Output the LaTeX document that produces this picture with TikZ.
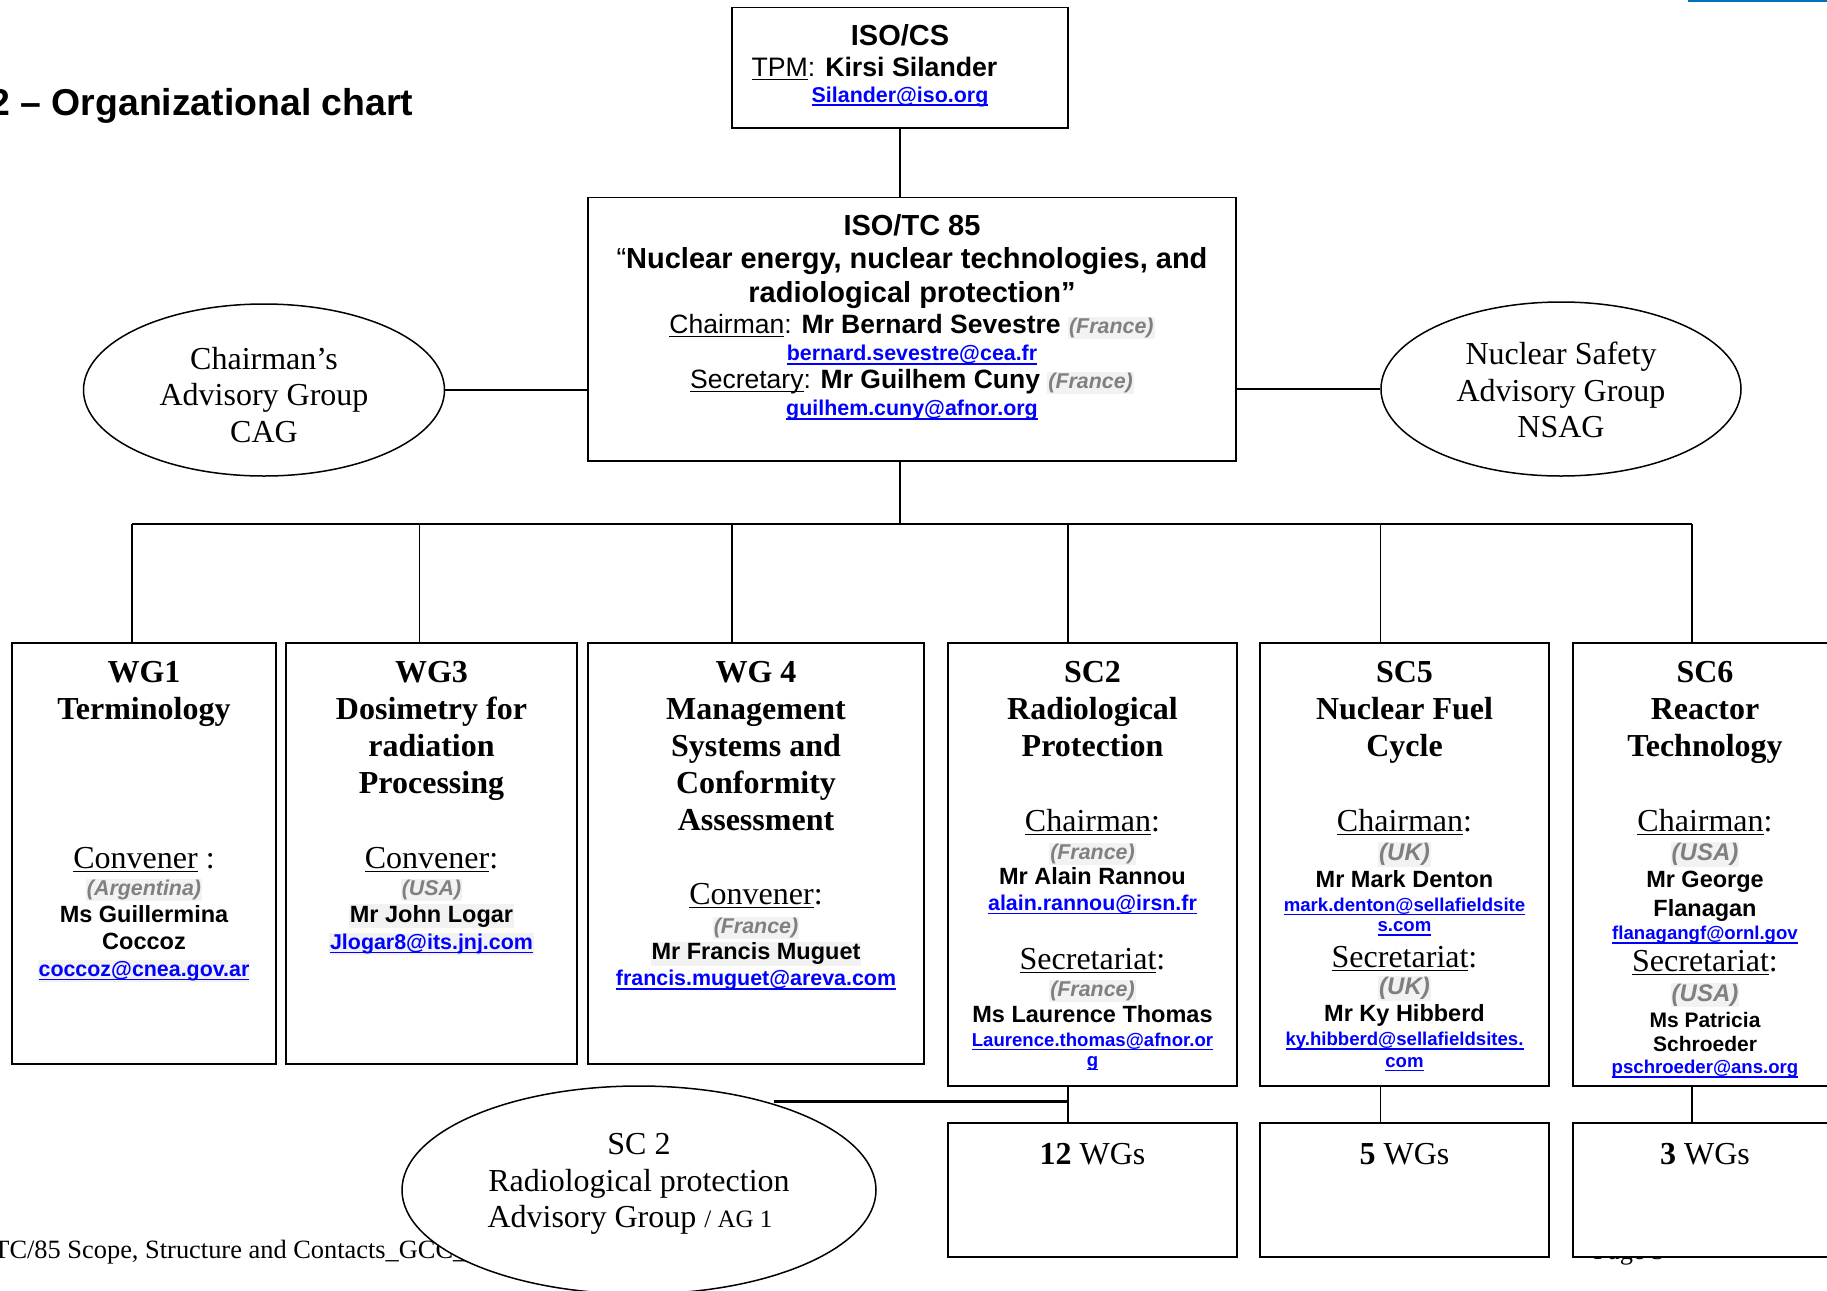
\documentclass[tikz,border=0pt]{standalone}
\usepackage{fontspec}
\setmainfont{Liberation Serif}
\setsansfont{Liberation Sans}
\usepackage{xcolor}
\usepackage{tikz}
\usetikzlibrary{positioning}
\usetikzlibrary{shapes.geometric}

\definecolor{linkblue}{RGB}{0,0,255}
\definecolor{ctrygray}{RGB}{128,128,128}
\definecolor{shade}{RGB}{242,242,242}
\definecolor{hdrblue}{RGB}{0,112,192}

\newsavebox\ulbox
\newcommand{\uln}[1]{\sbox\ulbox{#1}\rlap{\usebox\ulbox}\rule[-1.7pt]{\wd\ulbox}{0.55pt}}
\newcommand{\eml}[2][10.7]{{\fontsize{#1}{#1}\selectfont\color{linkblue}\sbox\ulbox{#2}\rlap{\usebox\ulbox}\rule[-2pt]{\wd\ulbox}{0.8pt}}}
\newcommand{\ctry}[2][10.7]{{\fontsize{#1}{#1}\selectfont\setlength{\fboxsep}{0.5pt}\colorbox{shade}{\color{ctrygray}\itshape #2}}}
\newcommand{\shd}[1]{{\setlength{\fboxsep}{0.5pt}\colorbox{shade}{#1}}}
\newcommand{\role}[2]{{\rmfamily\mdseries\fontsize{16}{16}\selectfont\uln{#1}#2}}
\newcommand{\tight}{\lineskiplimit=-100pt\relax}

\tikzset{
  box/.style={rectangle, draw, line width=0.8pt, fill=white, inner sep=0pt},
  grp/.style={ellipse, draw, line width=0.75pt, fill=white, inner sep=0pt},
  grptxt/.style={inner sep=0pt, align=center, font={\rmfamily\fontsize{16}{18.2}\selectfont}},
  hd/.style={inner sep=0pt, align=center, font={\rmfamily\bfseries\fontsize{16}{18.4}\selectfont\tight}},
  who/.style={inner sep=0pt, align=center, font={\sffamily\bfseries\fontsize{11.75}{10}\selectfont\tight}},
  foot/.style={inner sep=0pt, anchor=base west, font={\rmfamily\fontsize{13.2}{13.2}\selectfont}},
  link/.style={line width=0.6pt}
}

\begin{document}
\begin{tikzpicture}[x=0.5pt, y=-0.5pt]
\useasboundingbox (0,0) rectangle (1827,1291);

% page text behind the chart
\node[foot] (footer) at (-7,1258) {TC/85 Scope, Structure and Contacts\_GCC\_};
\node[foot] (page) at (1593,1259) {Page 3};
\draw[hdrblue, line width=1pt] (1688,1) -- (1840,1);
\node[anchor=base west, inner sep=0pt, font={\sffamily\bfseries\fontsize{18.7}{18.7}\selectfont}] (title) at (-11,115) {2 – Organizational chart};

% top of the tree
\node[box, minimum width=168pt, minimum height=60.25pt] (iso) at (900,67.75) {};
\node[who, below=8.6pt of iso.north] (isot) {{\fontsize{14.5}{14.5}\selectfont ISO/CS}\\[5.5pt]
  {\fontsize{13.35}{13.35}\selectfont{\mdseries\uln{TPM}:} Kirsi Silander\rule{25.5pt}{0pt}}\\[2.85pt]
  \eml{Silander@iso.org}};

\node[box, minimum width=324pt, minimum height=131.75pt] (tc) at (912,329.25) {};
\node[who, font={\sffamily\bfseries\fontsize{14.5}{10}\selectfont\tight}, below=8.75pt of tc.north] (tct) {ISO/TC 85\\[6.65pt]
  {\mdseries “}Nuclear energy, nuclear technologies, and\\[6.7pt]
  radiological protection”\\[5.8pt]
  {\fontsize{13.25}{13.25}\selectfont{\mdseries\uln{Chairman}:} Mr Bernard Sevestre }\ctry{(France)}\\[3.35pt]
  \eml{bernard.sevestre@cea.fr}\\[4.15pt]
  {\fontsize{13.25}{13.25}\selectfont{\mdseries\uln{Secretary}:} Mr Guilhem Cuny }\ctry{(France)}\\[3.35pt]
  \eml{guilhem.cuny@afnor.org}};

\node[grp, minimum width=180.5pt, minimum height=86pt] (cag) at (264,390) {};
\node[grptxt] (cagt) at ([yshift=-2.5pt]cag.center) {Chairman’s\\Advisory Group\\CAG};
\node[grp, minimum width=180pt, minimum height=87pt] (nsag) at (1561,389) {};
\node[grptxt] (nsagt) at ([yshift=-0.5pt]nsag.center) {Nuclear Safety\\Advisory Group\\NSAG};

% working groups and sub-committees
\node[box, minimum width=132pt, minimum height=210.5pt] (wg1) at (144,853.5) {};
\node[box, minimum width=145.5pt, minimum height=210.5pt] (wg3) at (431.5,853.5) {};
\node[box, minimum width=168pt, minimum height=210.5pt] (wg4) at (756,853.5) {};
\node[box, minimum width=144.5pt, minimum height=221.5pt] (sc2) at (1092.5,864.5) {};
\node[box, minimum width=144.5pt, minimum height=221.5pt] (sc5) at (1404.5,864.5) {};
\node[box, minimum width=132pt, minimum height=221.5pt] (sc6) at (1705,864.5) {};

\node[hd, below=9.6pt of wg1.north] (wg1h) {WG1\\Terminology};
\node[hd, below=9.6pt of wg3.north] (wg3h) {WG3\\Dosimetry for\\radiation\\Processing};
\node[hd, below=9.6pt of wg4.north] (wg4h) {WG 4\\Management\\Systems and\\Conformity\\Assessment};
\node[hd, below=9.6pt of sc2.north] (sc2h) {SC2\\Radiological\\Protection};
\node[hd, below=9.6pt of sc5.north] (sc5h) {SC5\\Nuclear Fuel\\Cycle};
\node[hd, below=9.6pt of sc6.north] (sc6h) {SC6\\Reactor\\Technology};

\node[who, below=102.35pt of wg1.north] (wg1c) {\role{Convener}{ :}\\[3.7pt]
  \ctry{(Argentina)}\\[3.5pt]
  Ms Guillermina\\[3.3pt]
  Coccoz\\[3.35pt]
  \shd{\eml{coccoz@cnea.gov.ar}}};
\node[who, below=102.35pt of wg3.north] (wg3c) {\role{Convener}{:}\\[3.7pt]
  \ctry{(USA)}\\[3.3pt]
  \shd{Mr John Logar}\\[3.3pt]
  \shd{\eml{Jlogar8@its.jnj.com}}};
\node[who, below=120.3pt of wg4.north] (wg4c) {\role{Convener}{:}\\[4.4pt]
  \ctry{(France)}\\[3.3pt]
  \shd{Mr Francis Muguet}\\[3pt]
  \eml{francis.muguet@areva.com}};
\node[who, below=83.4pt of sc2.north] (sc2c) {\role{Chairman}{:}\\[3.8pt]
  \ctry{(France)}\\[2.7pt]
  Mr Alain Rannou\\[2.85pt]
  \eml{alain.rannou@irsn.fr}\\[19.65pt]
  \role{Secretariat}{:}\\[3.5pt]
  \ctry{(France)}\\[2.8pt]
  Ms Laurence Thomas\\[2pt]
  \eml[9.3]{Laurence.thomas@afnor.or}\\
  \eml[9.3]{g}};
\node[who, below=83.4pt of sc5.north] (sc5c) {\role{Chairman}{:}\\[4.6pt]
  \ctry[12]{(UK)}\\[3.5pt]
  Mr Mark Denton\\[1.7pt]
  \eml[9.3]{mark.denton@sellafieldsite}\\[0.3pt]
  \eml[9.3]{s.com}\\[7.8pt]
  \role{Secretariat}{:}\\[3.6pt]
  \ctry[12]{(UK)}\\[3.6pt]
  Mr Ky Hibberd\\[2pt]
  \eml[9.3]{ky.hibberd@sellafieldsites.}\\[0.8pt]
  \eml[9.3]{com}};
\node[who, below=83.4pt of sc6.north] (sc6c) {\role{Chairman}{:}\\[4.6pt]
  \ctry[12]{(USA)}\\[3.5pt]
  Mr George\\[4.2pt]
  Flanagan\\[1.65pt]
  \eml[9.3]{flanagangf@ornl.gov}\\[6.15pt]
  \role{Secretariat}{:}\\[4.7pt]
  \ctry[12]{(USA)}\\[2.9pt]
  {\fontsize{10.5}{10.5}\selectfont Ms Patricia}\\[2.2pt]
  {\fontsize{10.5}{10.5}\selectfont Schroeder}\\[1.1pt]
  \eml[9.3]{pschroeder@ans.org}};

% groups below the sub-committees
\node[box, minimum width=144.5pt, minimum height=67pt] (wgs2) at (1092.5,1190) {};
\node[box, minimum width=144.5pt, minimum height=67pt] (wgs5) at (1404.5,1190) {};
\node[box, minimum width=132pt, minimum height=67pt] (wgs6) at (1705,1190) {};
\node[hd, below=10.2pt of wgs2.north] (wgs2t) {12 {\mdseries WGs}};
\node[hd, below=10.2pt of wgs5.north] (wgs5t) {5 {\mdseries WGs}};
\node[hd, below=10.2pt of wgs6.north] (wgs6t) {3 {\mdseries WGs}};

\node[grp, minimum width=237pt, minimum height=104pt] (ag1) at (639,1190) {};
\node[grptxt] (ag1t) at ([yshift=3pt]ag1.center) {SC 2\\Radiological protection\\Advisory Group {\fontsize{12.5}{12.5}\selectfont/ AG 1}\rule{9pt}{0pt}};

% connectors
\coordinate (bus) at (900,524);
\coordinate (busl) at (132,524);
\coordinate (busr) at (1692,524);
\draw[link] (iso.south) -- (iso.south |- tc.north);
\draw[link] (iso.south |- tc.south) -- (bus);
\draw[link] (busl) -- (busr);
\draw[link] (cag.east) -- (cag.east -| tc.west);
\draw[link] (nsag.west) -- (nsag.west -| tc.east);
\foreach \bx/\xx in {wg1/132, wg3/419.5, wg4/732, sc2/1068, sc5/1380.5, sc6/1692}
  \draw[link] (\xx,524) -- (\xx,524 |- \bx.north);
\foreach \bx/\wg/\xx in {sc2/wgs2/1068, sc5/wgs5/1380.5, sc6/wgs6/1692}
  \draw[link] (\xx,0 |- \bx.south) -- (\xx,0 |- \wg.north);
\draw[line width=1.2pt] ([xshift=4pt]ag1.35) -- (ag1.35 -| 1068,0);
\end{tikzpicture}
\end{document}
